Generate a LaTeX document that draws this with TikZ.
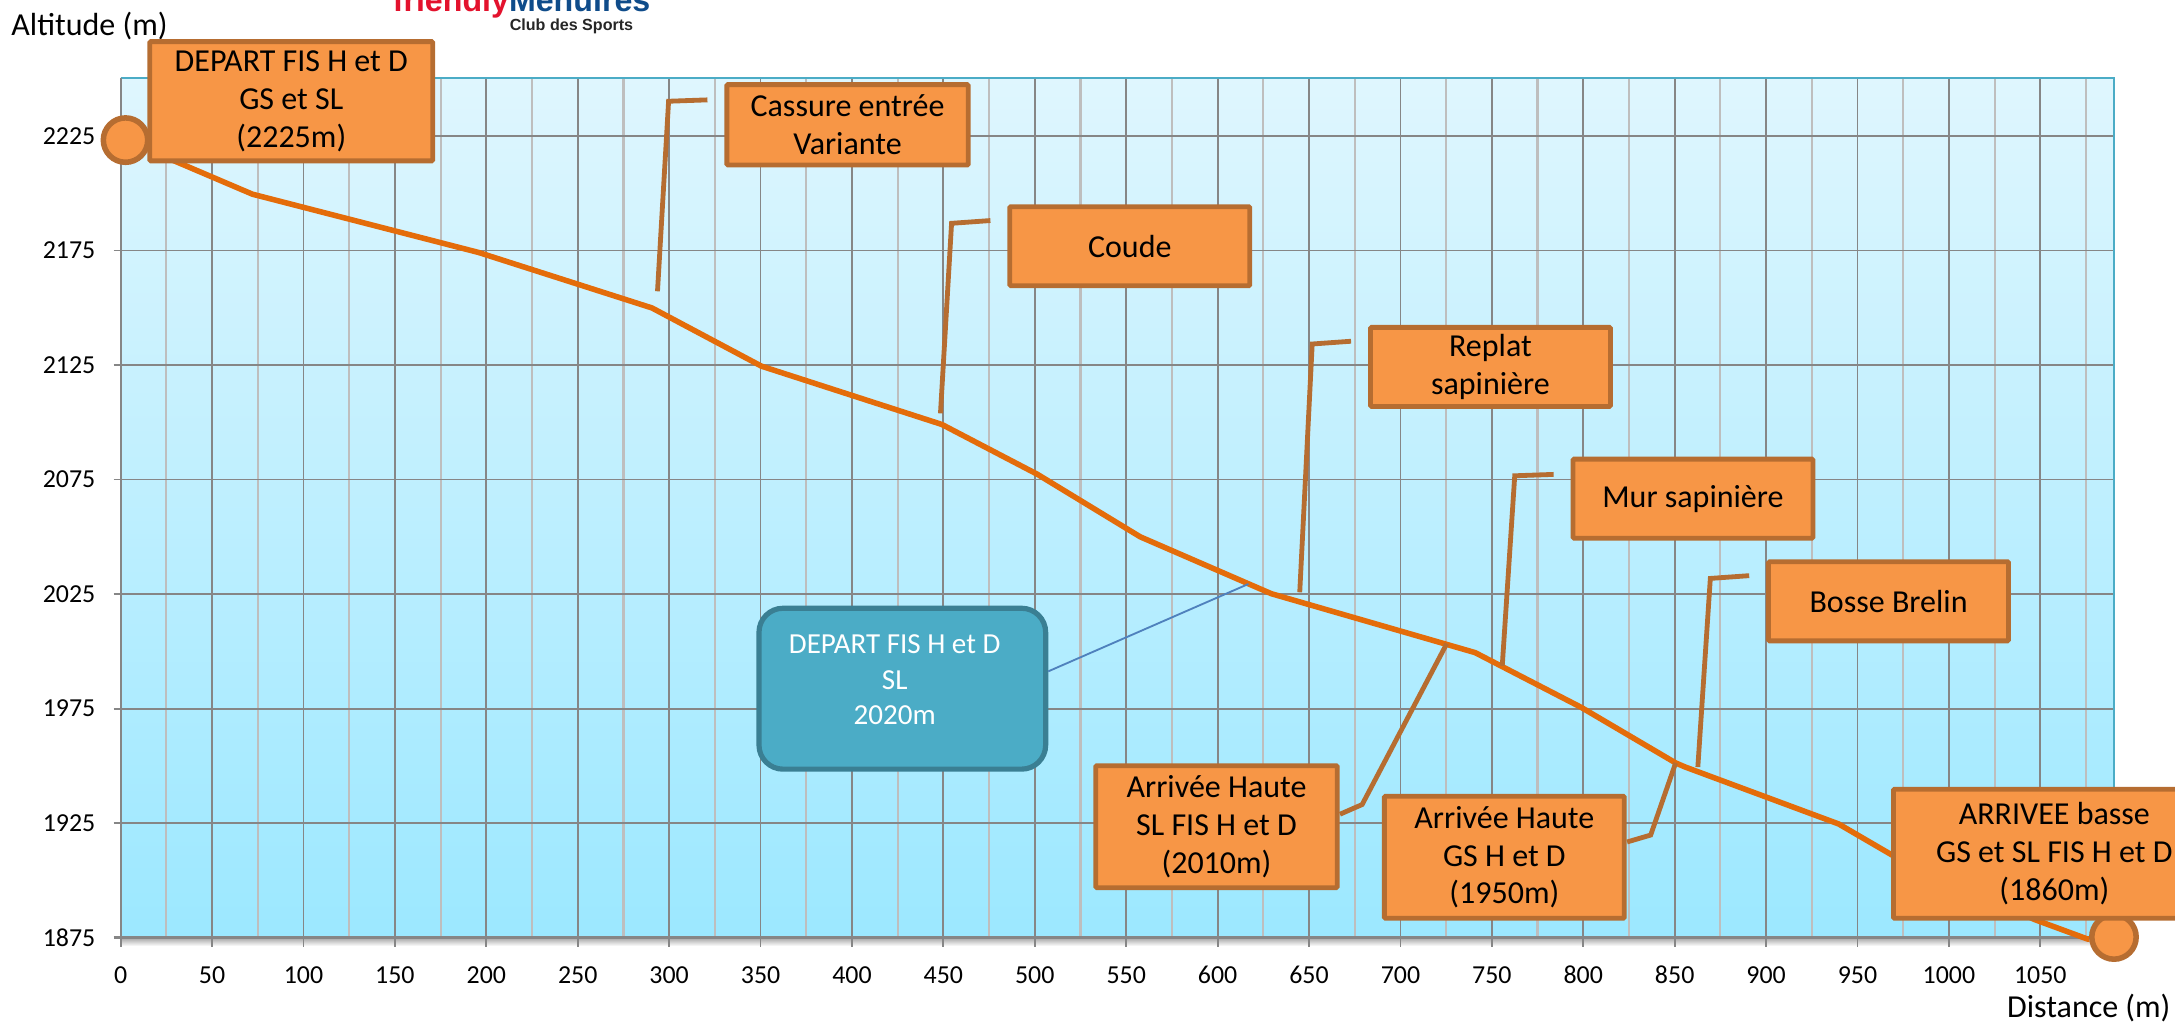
\documentclass[tikz,border=0pt]{standalone}
\usepackage{fontspec}
\setmainfont{Carlito}
\newfontfamily\logofont{Liberation Sans}
\definecolor{boxfill}{HTML}{F79646}
\definecolor{boxline}{HTML}{B66D31}
\definecolor{trace}{HTML}{E46C0A}
\definecolor{tealfill}{HTML}{4BACC6}
\definecolor{tealline}{HTML}{3A7F93}
\definecolor{griddark}{HTML}{868686}
\definecolor{gridlight}{HTML}{BEBEBE}
\definecolor{bgtop}{HTML}{DFF6FE}
\definecolor{bgbot}{HTML}{9CE8FF}
\definecolor{logored}{HTML}{E3122D}
\definecolor{logoblue}{HTML}{0F4C8A}
\definecolor{bluelead}{HTML}{4F81BD}
\tikzset{
  x=0.75pt,y=-0.75pt,
  callout/.style={draw=boxline,fill=boxfill,line width=2.6pt,rounded corners=0.6pt,align=center,font=\fontsize{17.3}{20.5}\selectfont,text=black,inner sep=0pt,anchor=center},
  leader/.style={draw=boxline,line width=2.6pt,line join=miter},
  dot/.style={circle,draw=boxline,fill=boxfill,line width=3pt,minimum size=24pt,inner sep=0pt},
  profile/.style={draw=trace,line width=3pt,line join=round},
  axlab/.style={font=\fontsize{14}{16}\selectfont,text=black,inner sep=0pt},
  axtitle/.style={font=\fontsize{17.3}{20}\selectfont,text=black,inner sep=0pt},
}
\newcommand{\calloutbox}[6]{% name, x0, y0, x1, y1, text
  \path let \n1={#2},\n2={#3},\n3={#4},\n4={#5} in
    node[callout,minimum width={(\n3-\n1)*0.75pt},minimum height={(\n4-\n2)*0.75pt}] (#1) at ({(\n1+\n3)/2},{(\n2+\n4)/2}) {#6};}
\usetikzlibrary{calc}
\begin{document}
\begin{tikzpicture}
\useasboundingbox (0,0) rectangle (1568,738.2);
\clip (0,0) rectangle (1568,738.2);
% plot shadow and background
\fill[top color=black!35,bottom color=white] (87,676) rectangle (1526,682);
\fill[bottom color=bgbot,top color=bgtop] (87,56) rectangle (1524,676);
% light vertical grid (every 25 m)
\foreach \i in {1,3,...,43} \draw[gridlight,line width=1.2pt] ({87+\i*32.95},56) -- ({87+\i*32.95},676);
% dark vertical grid (every 50 m)
\foreach \i in {1,...,21} \draw[griddark,line width=1pt] ({87+\i*65.9},56) -- ({87+\i*65.9},683);
% horizontal grid
\foreach \i in {0,...,6} \draw[griddark,line width=1pt] (82,{98+\i*82.57}) -- (1524,{98+\i*82.57});
% frame
\draw[tealfill,line width=1pt] (87,56) -- (1524,56) -- (1524,676);
\draw[griddark,line width=1.2pt] (87,56) -- (87,683);
\draw[griddark,line width=1.4pt] (82,676) -- (1524,676);
% axis labels
\foreach \v [count=\i from 0] in {2225,2175,2125,2075,2025,1975,1925,1875}
  \node[axlab,anchor=east] (ylab\i) at (69,{98+\i*82.57}) {\v};
\foreach \v [count=\i from 0] in {0,50,...,1050}
  \node[axlab] (xlab\i) at ({87+\i*65.9},703) {\v};
\node[axtitle,anchor=west] (ytitle) at (8,19) {Altitude (m)};
\node[axtitle,anchor=east] (xtitle) at (1565,727) {Distance (m)};
% logo
\node[inner sep=0pt,anchor=base,font=\logofont\bfseries\fontsize{17.4}{17}\selectfont] (logo) at (376,8) {\textcolor{logored}{friendly}\textcolor{logoblue}{Menuires}};
\node[inner sep=0pt,font=\logofont\bfseries\fontsize{8.7}{9}\selectfont,text=black!85] (logosub) at (412,19) {Club des Sports};
% end markers
\node[dot] (start) at (90.5,101) {};
\node[dot] (finish) at (1524,675.5) {};
% profile
\draw[profile] (start) -- (182,140) -- (345,182) -- (470,222) -- (549,264) -- (679,306) -- (748,342) -- (822,387) -- (916.5,428) -- (1063.5,470.5) -- (1140,510) -- (1208,550) -- (1215,553) -- (1325.5,594) -- (1365,617) -- (1467,663) -- (1505,677) -- (finish);
% blue leader
\coordinate (bluetip) at (900,421);
% callouts
\calloutbox{bA}{108}{30}{312}{116}{DEPART FIS H et D\\GS et SL\\(2225m)}
\calloutbox{bB}{524}{61}{698}{119}{Cassure entrée\\Variante}
\calloutbox{bC}{728}{149}{901}{206}{Coude}
\calloutbox{bD}{988}{236}{1161}{293}{Replat\\sapinière}
\calloutbox{bE}{1134}{331}{1307}{388}{Mur sapinière}
\calloutbox{bF}{1275}{405}{1448}{462}{Bosse Brelin}
\calloutbox{bG}{790}{552}{964}{640}{Arrivée Haute\\SL FIS H et D\\(2010m)}
\calloutbox{bH}{998}{574}{1171}{662}{Arrivée Haute\\GS H et D\\(1950m)}
\calloutbox{bI}{1365}{569}{1597}{662}{ARRIVEE basse\\GS et SL FIS H et D\\(1860m)}
\node[draw=tealline,fill=tealfill,line width=2.8pt,rounded corners=13pt,minimum width=155pt,minimum height=87pt,inner sep=0pt] (bJ) at (650.5,496.5) {};
\node[inner sep=0pt,align=center,text=white,font=\fontsize{15.7}{19.2}\selectfont] (bJt) at (645,490) {DEPART FIS H et D\\SL\\2020m};
% leaders
\coordinate (l1) at (510,72); \coordinate (l1b) at (482,73); \coordinate (l1c) at (474,210);
\coordinate (l2) at (714,159); \coordinate (l2b) at (686,161); \coordinate (l2c) at (678,298);
\coordinate (l3) at (974,246); \coordinate (l3b) at (946,248); \coordinate (l3c) at (937,427);
\coordinate (l4) at (1120,342); \coordinate (l4b) at (1092,343); \coordinate (l4c) at (1083,480);
\coordinate (l5) at (1261,415); \coordinate (l5b) at (1233,417); \coordinate (l5c) at (1224,553);
\coordinate (l6) at (966,587); \coordinate (l6b) at (982,580); \coordinate (l6c) at (1043,464);
\coordinate (l7) at (1173,607); \coordinate (l7b) at (1190,602); \coordinate (l7c) at (1208,550);
\draw[leader] (l1) -- (l1b) -- (l1c);
\draw[leader] (l2) -- (l2b) -- (l2c);
\draw[leader] (l3) -- (l3b) -- (l3c);
\draw[leader] (l4) -- (l4b) -- (l4c);
\draw[leader] (l5) -- (l5b) -- (l5c);
\draw[leader] (l6) -- (l6b) -- (l6c);
\draw[leader] (l7) -- (l7b) -- (l7c);
\draw[color=bluelead,line width=1pt] (bJ.east |- 0,484) -- (bluetip);
\end{tikzpicture}
\end{document}
